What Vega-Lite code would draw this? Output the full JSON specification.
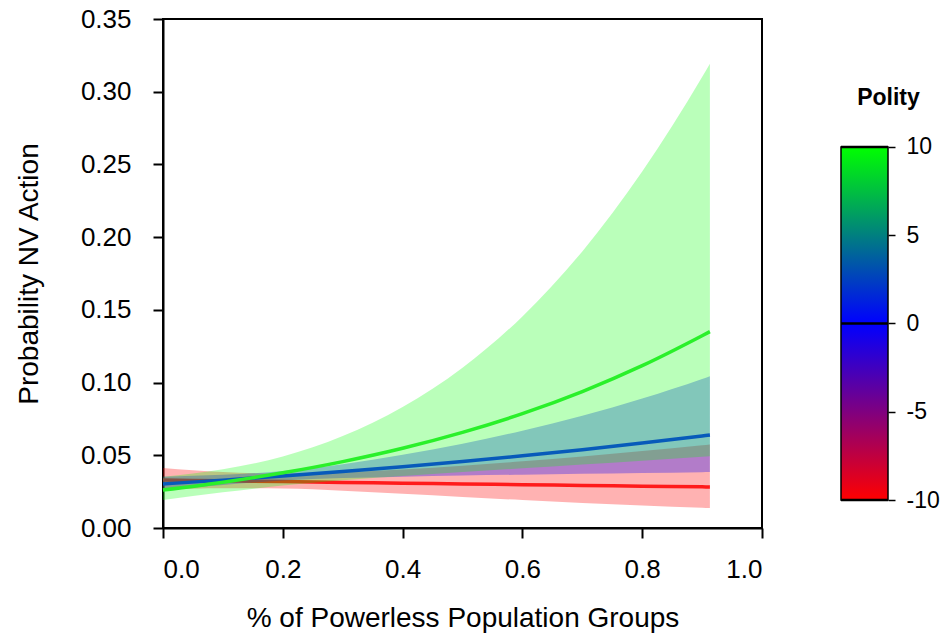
{
  "$schema": "https://vega.github.io/schema/vega-lite/v6.json",
  "background": "white",
  "padding": {"left": 14, "top": 5, "right": 0, "bottom": 0},
  "config": {
    "font": "Liberation Sans",
    "view": {"stroke": null},
    "axis": {"grid": false, "domainColor": "black", "tickColor": "black", "labelColor": "black", "titleColor": "black", "labelFont": "Liberation Sans", "titleFont": "Liberation Sans", "titleFontWeight": "normal"}
  },
  "datasets": {
    "fits": [
      {"x": 0.0, "polity": -10, "fit": 0.03299, "lo": 0.02634, "hi": 0.04127},
      {"x": 0.1, "polity": -10, "fit": 0.03244, "lo": 0.02732, "hi": 0.03846},
      {"x": 0.2, "polity": -10, "fit": 0.03189, "lo": 0.02716, "hi": 0.03741},
      {"x": 0.3, "polity": -10, "fit": 0.03135, "lo": 0.02566, "hi": 0.03824},
      {"x": 0.4, "polity": -10, "fit": 0.03082, "lo": 0.02355, "hi": 0.04023},
      {"x": 0.5, "polity": -10, "fit": 0.03029, "lo": 0.02134, "hi": 0.04284},
      {"x": 0.6, "polity": -10, "fit": 0.02978, "lo": 0.01923, "hi": 0.04585},
      {"x": 0.7, "polity": -10, "fit": 0.02927, "lo": 0.01727, "hi": 0.04921},
      {"x": 0.8, "polity": -10, "fit": 0.02878, "lo": 0.01549, "hi": 0.05288},
      {"x": 0.9, "polity": -10, "fit": 0.02829, "lo": 0.01387, "hi": 0.05685},
      {"x": 0.913, "polity": -10, "fit": 0.02822, "lo": 0.01367, "hi": 0.0574},
      {"x": 0.0, "polity": 0, "fit": 0.03029, "lo": 0.02598, "hi": 0.0353},
      {"x": 0.1, "polity": 0, "fit": 0.03292, "lo": 0.02961, "hi": 0.03658},
      {"x": 0.2, "polity": 0, "fit": 0.03575, "lo": 0.0326, "hi": 0.0392},
      {"x": 0.3, "polity": 0, "fit": 0.03883, "lo": 0.0343, "hi": 0.04392},
      {"x": 0.4, "polity": 0, "fit": 0.04216, "lo": 0.03529, "hi": 0.0503},
      {"x": 0.5, "polity": 0, "fit": 0.04577, "lo": 0.03604, "hi": 0.05797},
      {"x": 0.6, "polity": 0, "fit": 0.04965, "lo": 0.03667, "hi": 0.06689},
      {"x": 0.7, "polity": 0, "fit": 0.05385, "lo": 0.03727, "hi": 0.07722},
      {"x": 0.8, "polity": 0, "fit": 0.05841, "lo": 0.03785, "hi": 0.08905},
      {"x": 0.9, "polity": 0, "fit": 0.06329, "lo": 0.0384, "hi": 0.1025},
      {"x": 0.913, "polity": 0, "fit": 0.06394, "lo": 0.0385, "hi": 0.1044},
      {"x": 0.0, "polity": 10, "fit": 0.02611, "lo": 0.01929, "hi": 0.03526},
      {"x": 0.1, "polity": 10, "fit": 0.0315, "lo": 0.02454, "hi": 0.04036},
      {"x": 0.2, "polity": 10, "fit": 0.03794, "lo": 0.0292, "hi": 0.04917},
      {"x": 0.3, "polity": 10, "fit": 0.04564, "lo": 0.0328, "hi": 0.06321},
      {"x": 0.4, "polity": 10, "fit": 0.05482, "lo": 0.03577, "hi": 0.0832},
      {"x": 0.5, "polity": 10, "fit": 0.06575, "lo": 0.03843, "hi": 0.1102},
      {"x": 0.6, "polity": 10, "fit": 0.07862, "lo": 0.04103, "hi": 0.1455},
      {"x": 0.7, "polity": 10, "fit": 0.09381, "lo": 0.04363, "hi": 0.1902},
      {"x": 0.8, "polity": 10, "fit": 0.1116, "lo": 0.0463, "hi": 0.2451},
      {"x": 0.9, "polity": 10, "fit": 0.1322, "lo": 0.04904, "hi": 0.3102},
      {"x": 0.913, "polity": 10, "fit": 0.135, "lo": 0.04941, "hi": 0.3193}
    ],
    "colorbar": [{"low": -10, "high": 10, "mid": 0, "left": 0, "right": 1}]
  },
  "hconcat": [
    {
      "width": 599,
      "height": 509,
      "view": {"stroke": "black", "strokeWidth": 2},
      "data": {"name": "fits"},
      "encoding": {
        "x": {
          "field": "x", "type": "quantitative",
          "scale": {"domain": [0, 1], "nice": false},
          "axis": {"title": "% of Powerless Population Groups", "values": [0, 0.2, 0.4, 0.6, 0.8, 1.0], "format": ".1f", "labelFontSize": 26, "titleFontSize": 28, "tickSize": 10, "tickWidth": 2, "domainWidth": 2, "labelPadding": 18, "titlePadding": 22}
        },
        "y": {
          "type": "quantitative",
          "scale": {"domain": [0, 0.35], "nice": false},
          "axis": {"title": "Probability NV Action", "values": [0, 0.05, 0.1, 0.15, 0.2, 0.25, 0.3, 0.35], "format": ".2f", "labelFontSize": 26, "titleFontSize": 28, "tickSize": 10, "tickWidth": 2, "domainWidth": 2, "labelPadding": 22, "titlePadding": 37}
        }
      },
      "layer": [
        {
          "transform": [{"filter": "datum.polity == -10"}],
          "mark": {"type": "area", "color": "#ff0000", "opacity": 0.3, "interpolate": "monotone"},
          "encoding": {"y": {"field": "lo", "type": "quantitative"}, "y2": {"field": "hi"}}
        },
        {
          "transform": [{"filter": "datum.polity == -10"}],
          "mark": {"type": "line", "color": "#ff1a1a", "strokeWidth": 3.5, "interpolate": "monotone"},
          "encoding": {"y": {"field": "fit", "type": "quantitative"}}
        },
        {
          "transform": [{"filter": "datum.polity == 0"}],
          "mark": {"type": "area", "color": "#0000ff", "opacity": 0.3, "interpolate": "monotone"},
          "encoding": {"y": {"field": "lo", "type": "quantitative"}, "y2": {"field": "hi"}}
        },
        {
          "transform": [{"filter": "datum.polity == 0"}],
          "mark": {"type": "line", "color": "#0a1eff", "strokeWidth": 3.5, "interpolate": "monotone"},
          "encoding": {"y": {"field": "fit", "type": "quantitative"}}
        },
        {
          "transform": [{"filter": "datum.polity == 10"}],
          "mark": {"type": "area", "color": "#00ff00", "opacity": 0.27, "interpolate": "monotone"},
          "encoding": {"y": {"field": "lo", "type": "quantitative"}, "y2": {"field": "hi"}}
        },
        {
          "transform": [{"filter": "datum.polity == 10"}],
          "mark": {"type": "line", "color": "#2af02a", "strokeWidth": 3.5, "interpolate": "monotone"},
          "encoding": {"y": {"field": "fit", "type": "quantitative"}}
        }
      ]
    },
    {
      "width": 47,
      "height": 509,
      "data": {"name": "colorbar"},
      "encoding": {
        "x": {"type": "quantitative", "scale": {"domain": [0, 1], "nice": false, "zero": false}, "axis": null},
        "y": {
          "type": "quantitative",
          "scale": {"domain": [-11.586, 17.25], "nice": false, "zero": false},
          "axis": {"orient": "right", "values": [-10, -5, 0, 5, 10], "domain": false, "tickSize": 7, "tickWidth": 1.5, "labelFontSize": 23, "labelPadding": 11,
            "labelExpr": "datum.value < 0 ? '-' + abs(datum.value) : '' + datum.value",
            "title": "Polity", "titleAngle": 0, "titleFontSize": 23, "titleFontWeight": "bold", "titleAlign": "center", "titleBaseline": "middle", "titleX": 0, "titleY": 78}
        }
      },
      "layer": [
        {
          "mark": {"type": "rect", "stroke": "black", "strokeWidth": 1.5,
            "fill": {"gradient": "linear", "x1": 0, "y1": 1, "x2": 0, "y2": 0,
              "stops": [{"offset": 0, "color": "#ff0000"}, {"offset": 0.5, "color": "#0000ff"}, {"offset": 1, "color": "#00ff00"}]}},
          "encoding": {"x": {"field": "left"}, "x2": {"field": "right"}, "y": {"field": "low"}, "y2": {"field": "high"}}
        },
        {
          "mark": {"type": "rule", "color": "black", "strokeWidth": 2.5},
          "encoding": {"x": {"field": "left"}, "x2": {"field": "right"}, "y": {"field": "mid"}}
        },
        {
          "mark": {"type": "rule", "color": "black", "strokeWidth": 2.5},
          "encoding": {"x": {"field": "left"}, "x2": {"field": "right"}, "y": {"field": "high"}}
        },
        {
          "mark": {"type": "rule", "color": "black", "strokeWidth": 2.5},
          "encoding": {"x": {"field": "left"}, "x2": {"field": "right"}, "y": {"field": "low"}}
        }
      ]
    }
  ],
  "spacing": 79,
  "bounds": "flush"
}
